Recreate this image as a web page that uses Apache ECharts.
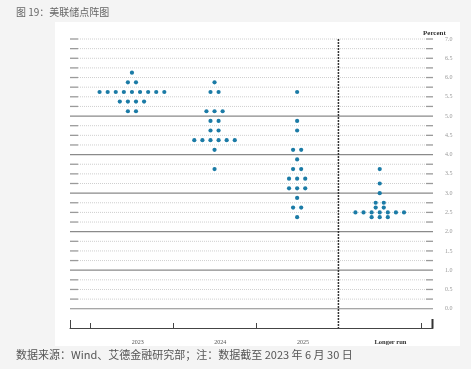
<!DOCTYPE html>
<html>
<head>
<meta charset="utf-8">
<script src="https://cdn.jsdelivr.net/npm/echarts@6/dist/echarts.min.js"></script>
<style>html,body{margin:0;padding:0;background:#f4f4f4;}#c{width:471px;height:369px;}</style>
</head>
<body>
<div id="c"></div>
<script>
const categories = ['2023', '2024', '2025', 'Longer run'];
const rates2023 = [6.125, 5.875, 5.625, 5.375, 5.125];
const counts2023 = [1, 2, 9, 4, 2];
const rates2024 = [5.875, 5.625, 5.125, 4.875, 4.625, 4.375, 4.125, 3.625];
const counts2024 = [1, 2, 3, 2, 2, 6, 1, 1];
const rates2025 = [5.625, 4.875, 4.625, 4.125, 3.875, 3.625, 3.375, 3.125, 2.875, 2.625, 2.375];
const counts2025 = [1, 1, 1, 2, 1, 2, 3, 3, 1, 2, 1];
const ratesLR = [3.625, 3.25, 3.0, 2.75, 2.625, 2.5, 2.375];
const countsLR = [1, 1, 1, 2, 2, 7, 3];
const yTickLabels = ['0.0','0.5','1.0','1.5','2.0','2.5','3.0','3.5','4.0','4.5','5.0','5.5','6.0','6.5','7.0'];

const X_MIN = -0.75, X_MAX = 3.645;
const DOT_STEP = 0.098;
const groups = [[rates2023, counts2023], [rates2024, counts2024], [rates2025, counts2025], [ratesLR, countsLR]];
const dots = [];
groups.forEach(function (g, i) {
  g[0].forEach(function (r, j) {
    const n = g[1][j];
    for (let k = 0; k < n; k++) dots.push([i + (k - (n - 1) / 2) * DOT_STEP, r]);
  });
});
const levels = [];
for (let v = 0; v <= 7.0001; v += 0.25) levels.push([Math.round(v * 100) / 100]);

const chart = echarts.init(document.getElementById('c'));
chart.setOption({
  backgroundColor: '#f4f4f4',
  animation: false,
  graphic: [
    { type: 'rect', shape: { x: 55, y: 22, width: 405, height: 324 }, style: { fill: '#ffffff' }, z: -10 },
    { type: 'text', left: 16, top: 7, style: { text: '图 19：美联储点阵图', font: '10px "Noto Sans CJK SC"', fill: '#666' } },
    { type: 'text', left: 16, top: 349, style: { text: '数据来源：Wind、艾德金融研究部；注：数据截至 2023 年 6 月 30 日', font: '11px "Noto Sans CJK SC"', fill: '#555' } },
    { type: 'text', left: 423, top: 30, style: { text: 'Percent', font: 'bold 7px "Liberation Serif"', fill: '#333' } }
  ],
  grid: { left: 70, right: 38, top: 39, bottom: 41 },
  xAxis: {
    type: 'value', min: X_MIN, max: X_MAX,
    splitLine: { show: false },
    axisLine: { show: true, onZero: false, lineStyle: { color: '#444', width: 1 } },
    axisTick: { show: true, inside: true, length: 5, lineStyle: { color: '#444' }, customValues: [-0.5, 0.5, 1.5, 3.5] },
    axisLabel: {
      show: true, margin: 11, customValues: [0.07, 1.07, 2.07, 3.13],
      formatter: function (v) {
        const i = Math.round(v);
        return i === 3 ? '{b|' + categories[i] + '}' : categories[i];
      },
      fontFamily: 'Liberation Serif', fontSize: 6, color: '#555',
      rich: { b: { fontFamily: 'Liberation Serif', fontSize: 6.5, fontWeight: 'bold', color: '#333' } }
    }
  },
  yAxis: {
    type: 'value', min: -0.5, max: 7, position: 'right',
    splitLine: { show: false },
    axisLine: { show: false },
    axisTick: { show: false },
    axisLabel: {
      show: true, margin: 12, customValues: yTickLabels.map(Number),
      formatter: function (v) { return yTickLabels[Math.round(v * 2)]; },
      fontFamily: 'Liberation Serif', fontSize: 6, color: '#999'
    }
  },
  series: [
    {
      type: 'custom', data: levels, silent: true, z: 1,
      renderItem: function (params, api) {
        const v = api.value(0);
        const p1 = api.coord([X_MIN, v]);
        const p2 = api.coord([X_MAX, v]);
        const solid = (Math.abs(v - Math.round(v)) < 1e-6) && v <= 5;
        if (solid) {
          return { type: 'line', shape: { x1: p1[0], y1: p1[1], x2: p2[0], y2: p2[1] }, style: { stroke: '#8a8a8a', lineWidth: 1.2 } };
        }
        return {
          type: 'group', children: [
            { type: 'line', shape: { x1: p1[0] + 8, y1: p1[1], x2: p2[0] - 7, y2: p2[1] }, style: { stroke: '#cfcfcf', lineWidth: 1, lineDash: [1, 1] } },
            { type: 'line', shape: { x1: p1[0], y1: p1[1], x2: p1[0] + 8, y2: p1[1] }, style: { stroke: '#9a9a9a', lineWidth: 1.3 } },
            { type: 'line', shape: { x1: p2[0] - 7, y1: p2[1], x2: p2[0], y2: p2[1] }, style: { stroke: '#9a9a9a', lineWidth: 1.3 } }
          ]
        };
      }
    },
    {
      type: 'custom', data: [[2.5]], silent: true, z: 2,
      renderItem: function (params, api) {
        const top = api.coord([2.5, 7]);
        const bot = api.coord([2.5, -0.5]);
        const l = api.coord([X_MIN, -0.5]);
        const r = api.coord([X_MAX, -0.5]);
        return {
          type: 'group', children: [
            { type: 'line', shape: { x1: top[0], y1: top[1], x2: bot[0], y2: bot[1] }, style: { stroke: '#333', lineWidth: 1.5, lineDash: [2, 1] } },
            { type: 'line', shape: { x1: l[0] + 0.5, y1: l[1], x2: l[0] + 0.5, y2: l[1] - 8 }, style: { stroke: '#444', lineWidth: 1 } },
            { type: 'line', shape: { x1: r[0] - 0.5, y1: r[1], x2: r[0] - 0.5, y2: r[1] - 9 }, style: { stroke: '#333', lineWidth: 2 } }
          ]
        };
      }
    },
    {
      type: 'scatter', data: dots, symbolSize: 4.2, z: 5,
      itemStyle: { color: '#1b7ba6', opacity: 1 }
    }
  ]
});
</script>
</body>
</html>
